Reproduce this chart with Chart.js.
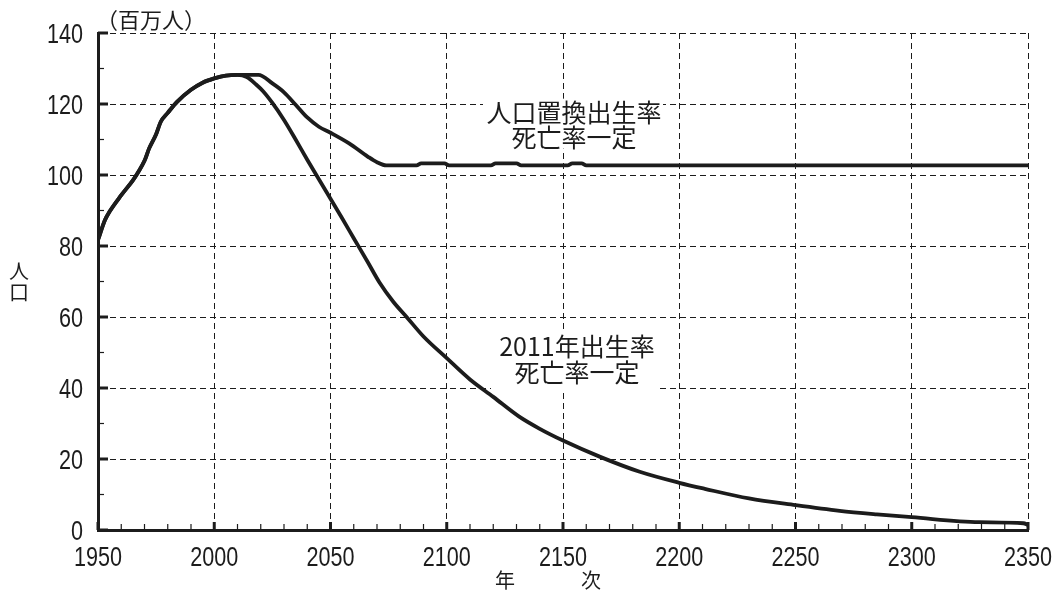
<!DOCTYPE html>
<html>
<head>
<meta charset="utf-8">
<script src="https://cdn.jsdelivr.net/npm/chart.js@4.4.1/dist/chart.umd.min.js"></script>
<style>
  html, body { margin: 0; padding: 0; background: #fff; }
  #wrap { width: 1063px; height: 595px; }
</style>
</head>
<body>
<div id="wrap"><canvas id="chart"></canvas></div>
<script>
// shared history 1950-2010 (millions)
const histYears = [1950, 1953, 1955, 1960, 1965, 1967, 1970, 1972, 1975, 1977, 1980, 1984, 1990, 1995, 2000, 2005, 2010];
const histPop   = [81.7, 87.3, 89.7, 94.3, 98.5, 100.5, 104.0, 107.5, 111.5, 115.0, 117.5, 120.6, 124.0, 126.0, 127.2, 128.0, 128.2];

// replacement fertility, mortality constant
const replYears = [2015, 2019, 2025, 2030, 2035, 2040, 2045, 2050, 2058, 2066, 2070, 2074, 2087, 2089, 2099, 2101, 2119, 2121, 2130, 2132, 2152, 2154, 2158, 2160, 2350];
const replPop   = [128.2, 128.2, 125.8, 123.3, 119.8, 116.2, 113.6, 111.9, 108.9, 105.2, 103.6, 102.7, 102.7, 103.3, 103.3, 102.7, 102.7, 103.3, 103.3, 102.7, 102.7, 103.3, 103.3, 102.7, 102.7];

// 2011 fertility, mortality constant
const tfrYears = [2014, 2018, 2021, 2025, 2030, 2035, 2040, 2045, 2050, 2055, 2060, 2066, 2071, 2077, 2083, 2090, 2100, 2110, 2120, 2131, 2140, 2150, 2166, 2183, 2200, 2211, 2230, 2250, 2269, 2285, 2300, 2329, 2348, 2350];
const tfrPop   = [127.6, 125.5, 123.6, 120.3, 115.5, 110.0, 104.3, 98.8, 93.3, 87.8, 82.2, 75.5, 69.8, 64.3, 59.8, 54.5, 48.4, 42.4, 37.5, 32.0, 28.5, 25.2, 20.6, 16.4, 13.3, 11.6, 8.9, 7.0, 5.4, 4.4, 3.6, 2.2, 1.9, 1.4];

const yLabel = '人口';
const unitLabel = '（百万人）';
const xLabel = ['年', '次'];
const noteRepl = ['人口置換出生率', '死亡率一定'];
const noteTfr = ['2011年出生率', '死亡率一定'];

const NUM_FONT = "'Liberation Sans', Arial, sans-serif";
const CJK_FONT = "'Noto Sans CJK JP', 'Noto Sans', sans-serif";
const INK = '#1c1c1c';
const SQUEEZE = 0.8;   // the original digits are a condensed face

function toPoints(xs, ys) {
    return xs.map((x, i) => ({ x, y: ys[i] }));
}

function squeezedText(ctx, text, px, py) {
    ctx.save();
    ctx.translate(px, py);
    ctx.scale(SQUEEZE, 1);
    ctx.fillText(text, 0, 0);
    ctx.restore();
}

const decor = {
    id: 'decor',
    beforeDatasetsDraw(chart) {
        const { ctx, scales: { x, y } } = chart;
        ctx.save();
        // white boxes behind the notes
        ctx.fillStyle = '#fff';
        ctx.fillRect(x.getPixelForValue(2150) - 80, y.getPixelForValue(121.5), 180, 50);
        ctx.fillRect(x.getPixelForValue(2150) - 72, y.getPixelForValue(55.5), 168, 57);

        ctx.fillStyle = INK;
        ctx.textAlign = 'center';
        ctx.textBaseline = 'middle';
        ctx.font = '25px ' + CJK_FONT;
        const cx1 = x.getPixelForValue(2154.7);
        ctx.fillText(noteRepl[0], cx1, y.getPixelForValue(117.7));
        ctx.fillText(noteRepl[1], cx1, y.getPixelForValue(110.7));
        const cx2 = x.getPixelForValue(2156);
        ctx.fillText(noteTfr[0], cx2, y.getPixelForValue(51.8));
        ctx.fillText(noteTfr[1], cx2, y.getPixelForValue(44.5));
        ctx.restore();
    },
    afterDraw(chart) {
        const { ctx, chartArea, scales: { x, y } } = chart;
        ctx.save();
        ctx.strokeStyle = INK;
        // inward ticks on y axis
        for (let v = 0; v <= 140; v += 10) {
            const py = y.getPixelForValue(v);
            const major = v % 20 === 0;
            ctx.lineWidth = major ? 3 : 1.2;
            ctx.beginPath();
            ctx.moveTo(chartArea.left, py);
            ctx.lineTo(chartArea.left + (major ? 10 : 6), py);
            ctx.stroke();
        }
        // inward ticks on x axis
        for (let v = 1950; v <= 2350; v += 10) {
            const px = x.getPixelForValue(v);
            const major = v % 50 === 0;
            ctx.lineWidth = major ? 3 : 1.2;
            ctx.beginPath();
            ctx.moveTo(px, chartArea.bottom);
            ctx.lineTo(px, chartArea.bottom - (major ? 8 : 6));
            ctx.stroke();
        }

        // tick labels, condensed
        ctx.fillStyle = INK;
        ctx.font = '27px ' + NUM_FONT;
        ctx.textBaseline = 'alphabetic';
        ctx.textAlign = 'right';
        y.ticks.forEach(t => squeezedText(ctx, String(t.value), chartArea.left - 15, y.getPixelForValue(t.value) + 9.5));
        ctx.textAlign = 'center';
        x.ticks.forEach(t => squeezedText(ctx, String(t.value), x.getPixelForValue(t.value), chartArea.bottom + 36));

        ctx.textBaseline = 'middle';
        ctx.textAlign = 'left';
        ctx.font = '22px ' + CJK_FONT;
        ctx.fillText(unitLabel, chartArea.left - 2, 20);

        ctx.textAlign = 'center';
        ctx.font = '20px ' + CJK_FONT;
        ctx.fillText(yLabel[0], 19, 271);
        ctx.fillText(yLabel[1], 19, 292);
        ctx.fillText(xLabel[0], 505, 580);
        ctx.fillText(xLabel[1], 591, 580);
        ctx.restore();
    }
};

const lineStyle = {
    borderColor: INK,
    borderWidth: 3.8,
    pointRadius: 0,
    fill: false,
    cubicInterpolationMode: 'monotone'
};

new Chart(document.getElementById('chart'), {
    type: 'line',
    data: {
        datasets: [
            { label: noteRepl.join(''), data: toPoints(histYears.concat(replYears), histPop.concat(replPop)), ...lineStyle },
            { label: noteTfr.join(''), data: toPoints(histYears.concat(tfrYears), histPop.concat(tfrPop)), ...lineStyle }
        ]
    },
    options: {
        responsive: true,
        maintainAspectRatio: false,
        animation: false,
        layout: { padding: { top: 33, right: 35, left: 0, bottom: 0 } },
        plugins: {
            legend: { display: false },
            tooltip: { enabled: false }
        },
        scales: {
            x: {
                type: 'linear',
                min: 1950,
                max: 2350,
                afterFit: s => { s.height = 65; },
                ticks: { stepSize: 50, display: false },
                grid: { color: INK, lineWidth: 1, drawTicks: false },
                border: { display: true, color: INK, width: 3, dash: [6, 4] }
            },
            y: {
                min: 0,
                max: 140,
                afterFit: s => { s.width = 98; },
                ticks: { stepSize: 20, display: false },
                grid: { color: INK, lineWidth: 1, drawTicks: false },
                border: { display: true, color: INK, width: 3, dash: [6, 4] }
            }
        }
    },
    plugins: [decor]
});
</script>
</body>
</html>
